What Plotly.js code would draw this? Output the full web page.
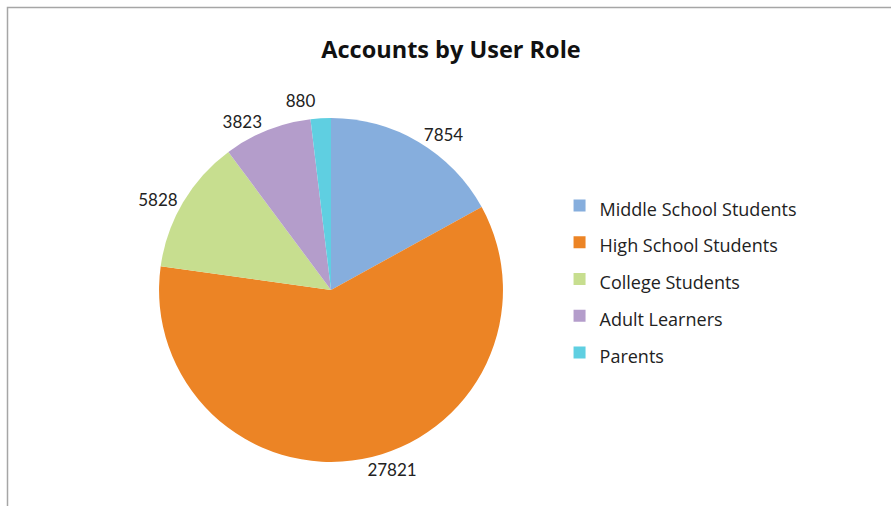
<!DOCTYPE html>
<html>
<head>
<meta charset="utf-8">
<script src="https://cdn.plot.ly/plotly-3.0.1.min.js"></script>
<style>
  html, body { margin: 0; padding: 0; background: #fff; }
  #chart { width: 891px; height: 506px; }
  /* Excel-style labels: no leader lines */
  #chart path.textline { stroke-opacity: 0 !important; }
</style>
</head>
<body>
<div id="chart"></div>
<script>
var roles = ['Middle School Students', 'High School Students', 'College Students', 'Adult Learners', 'Parents'];
var accounts = [7854, 27821, 5828, 3823, 880];
var sliceColors = ['#86aedd', '#ec8425', '#c7de8f', '#b49dcb', '#5fcfe1'];

// legend font is large to space the rows, the text itself is set smaller
var legendLabels = roles.map(function (r) {
    return '<span style="font-size:18px">' + r + '</span>';
});

var trace = {
    type: 'pie',
    labels: legendLabels,
    values: accounts,
    sort: false,
    direction: 'clockwise',
    rotation: 0,
    texttemplate: '%{value:d}',
    textposition: 'outside',
    outsidetextfont: { family: 'Lato, "Open Sans", sans-serif', size: 17, color: '#222' },
    marker: { colors: sliceColors, line: { width: 0 } },
    domain: { x: [0.1785, 0.5645], y: [0.087, 0.767] },
    hoverinfo: 'label+value'
};

var layout = {
    width: 891,
    height: 506,
    margin: { l: 0, r: 0, t: 0, b: 0 },
    paper_bgcolor: '#fff',
    showlegend: true,
    title: {
        text: '<b>Accounts by User Role</b>',
        font: { family: '"Open Sans", sans-serif', size: 23.5, color: '#111' },
        x: 451 / 891, xanchor: 'center',
        y: 1 - 50 / 506, yanchor: 'middle'
    },
    legend: {
        x: 0.628, xanchor: 'left',
        y: 1 - 182 / 506, yanchor: 'top',
        font: { family: '"Open Sans", sans-serif', size: 26, color: '#222' },
        bgcolor: 'rgba(0,0,0,0)'
    },
    shapes: [{
        type: 'rect', xref: 'paper', yref: 'paper',
        x0: 7.5 / 891, x1: 1.2, y0: -0.2, y1: 1 - 7.5 / 506,
        line: { color: '#a6a6a6', width: 1.5 }
    }]
};

Plotly.newPlot('chart', [trace], layout, { displayModeBar: false, staticPlot: true });
</script>
</body>
</html>
